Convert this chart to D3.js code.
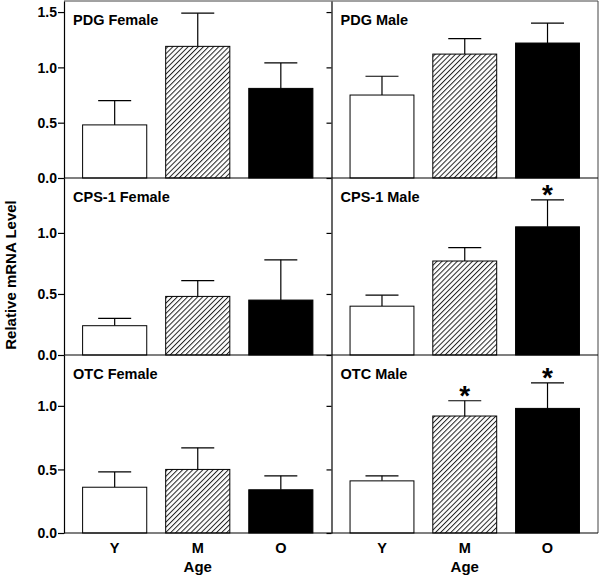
<!DOCTYPE html>
<html>
<head>
<meta charset="utf-8">
<script src="https://cdn.jsdelivr.net/npm/d3@7/dist/d3.min.js"></script>
<style>
  body { margin: 0; background: #fff; }
  svg { display: block; }
  text { font-family: "Liberation Sans", Arial, Helvetica, sans-serif; font-weight: bold; fill: #000; }
</style>
</head>
<body>
<svg id="chart" width="600" height="576"></svg>
<script>
// ---- data ----
const ages = ["Y", "M", "O"];
const panelTitles = ["PDG Female", "PDG Male", "CPS-1 Female", "CPS-1 Male", "OTC Female", "OTC Male"];
// means
const pdgFemale = [0.48, 1.19, 0.81];
const pdgMale = [0.75, 1.12, 1.22];
const cpsFemale = [0.24, 0.48, 0.45];
const cpsMale = [0.40, 0.77, 1.05];
const otcFemale = [0.36, 0.50, 0.34];
const otcMale = [0.41, 0.92, 0.98];
// upper error (SEM)
const pdgFemaleErr = [0.22, 0.30, 0.23];
const pdgMaleErr = [0.17, 0.14, 0.18];
const cpsFemaleErr = [0.06, 0.13, 0.33];
const cpsMaleErr = [0.09, 0.11, 0.22];
const otcFemaleErr = [0.12, 0.17, 0.11];
const otcMaleErr = [0.04, 0.12, 0.20];
// significance flags
const pdgFemaleSig = [false, false, false];
const pdgMaleSig = [false, false, false];
const cpsFemaleSig = [false, false, false];
const cpsMaleSig = [false, false, true];
const otcFemaleSig = [false, false, false];
const otcMaleSig = [false, true, true];
// y axis per row
const rowMax = [1.6, 1.45, 1.4];
const rowTicks = [[0, 0.5, 1.0, 1.5], [0, 0.5, 1.0], [0, 0.5, 1.0]];

const means = [pdgFemale, pdgMale, cpsFemale, cpsMale, otcFemale, otcMale];
const errs = [pdgFemaleErr, pdgMaleErr, cpsFemaleErr, cpsMaleErr, otcFemaleErr, otcMaleErr];
const sigs = [pdgFemaleSig, pdgMaleSig, cpsFemaleSig, cpsMaleSig, otcFemaleSig, otcMaleSig];

// ---- layout ----
const svg = d3.select("#chart");
const colX = [[64, 331.5], [331.5, 598]];
const rowY = [[1, 178], [178, 355], [355, 533]];

const defs = svg.append("defs");
const pat = defs.append("pattern")
  .attr("id", "hatch").attr("patternUnits", "userSpaceOnUse")
  .attr("width", 3.6).attr("height", 4)
  .attr("patternTransform", "rotate(45)");
pat.append("rect").attr("width", 3.6).attr("height", 4).attr("fill", "#fff");
pat.append("line").attr("x1", 0.5).attr("y1", 0).attr("x2", 0.5).attr("y2", 4)
  .attr("stroke", "#222").attr("stroke-width", 1);

const fills = ["#fff", "url(#hatch)", "#000"];

// outer frame lines (thin)
svg.append("line").attr("x1", 64).attr("x2", 598).attr("y1", 1).attr("y2", 1)
  .attr("stroke", "#444").attr("stroke-width", 1);
svg.append("line").attr("x1", 598).attr("x2", 598).attr("y1", 1).attr("y2", 533)
  .attr("stroke", "#444").attr("stroke-width", 1);

panelTitles.forEach((title, i) => {
  const r = Math.floor(i / 2), c = i % 2;
  const x = d3.scaleBand().domain(ages).range(colX[c]).paddingInner(0.228).paddingOuter(0.224);
  const y = d3.scaleLinear().domain([0, rowMax[r]]).range([rowY[r][1], rowY[r][0]]);
  const g = svg.append("g");

  const data = ages.map((a, k) => ({ a, v: means[i][k], e: errs[i][k], s: sigs[i][k], k }));
  // error bars
  g.selectAll(".ev").data(data).join("line")
    .attr("x1", d => x(d.a) + x.bandwidth() / 2).attr("x2", d => x(d.a) + x.bandwidth() / 2)
    .attr("y1", d => y(d.v)).attr("y2", d => y(d.v + d.e))
    .attr("stroke", "#000").attr("stroke-width", 1.2);
  g.selectAll(".ec").data(data).join("line")
    .attr("x1", d => x(d.a) + x.bandwidth() / 2 - 16.5).attr("x2", d => x(d.a) + x.bandwidth() / 2 + 16.5)
    .attr("y1", d => y(d.v + d.e)).attr("y2", d => y(d.v + d.e))
    .attr("stroke", "#000").attr("stroke-width", 1.2);
  // bars
  g.selectAll("rect").data(data).join("rect")
    .attr("x", d => x(d.a)).attr("width", x.bandwidth())
    .attr("y", d => y(d.v)).attr("height", d => y(0) - y(d.v))
    .attr("fill", d => fills[d.k]).attr("stroke", "#000").attr("stroke-width", 1);
  // asterisks
  g.selectAll(".ast").data(data.filter(d => d.s)).join("text")
    .attr("x", d => x(d.a) + x.bandwidth() / 2)
    .attr("y", d => y(d.v + d.e) + 4)
    .attr("text-anchor", "middle").style("font-size", "28px").text("*");

  // y axis
  const ax = g.append("g").attr("transform", `translate(${colX[c][0]},0)`)
    .call(d3.axisLeft(y).tickValues(rowTicks[r]).tickFormat(c === 0 ? d3.format(".1f") : () => "")
      .tickSize(c === 0 ? 6 : 5).tickSizeOuter(0));
  ax.select(".domain").attr("stroke", "#000").attr("stroke-width", 1.2);
  ax.selectAll(".tick line").attr("stroke", "#000").attr("stroke-width", 1.2);
  ax.selectAll(".tick text").style("font-size", "14px").style("font-family", "Liberation Sans, Arial, sans-serif")
    .style("font-weight", "bold").attr("x", -7).attr("dy", "0.35em");

  // baseline (x axis)
  g.append("line").attr("x1", colX[c][0]).attr("x2", colX[c][1])
    .attr("y1", y(0)).attr("y2", y(0)).attr("stroke", "#000").attr("stroke-width", 1.2);

  // title
  g.append("text").attr("x", colX[c][0] + 9).attr("y", rowY[r][0] + 24)
    .style("font-size", "14.5px").text(title);

  // bottom labels
  if (r === 2) {
    g.selectAll(".xl").data(ages).join("text")
      .attr("x", d => x(d) + x.bandwidth() / 2).attr("y", 553)
      .attr("text-anchor", "middle").style("font-size", "14.5px").text(d => d);
    g.append("text").attr("x", (colX[c][0] + colX[c][1]) / 2).attr("y", 572)
      .attr("text-anchor", "middle").style("font-size", "15px").text("Age");
  }
});

// y label
svg.append("text").attr("transform", "translate(16,275) rotate(-90)")
  .attr("text-anchor", "middle").style("font-size", "15px").text("Relative mRNA Level");
</script>
</body>
</html>
